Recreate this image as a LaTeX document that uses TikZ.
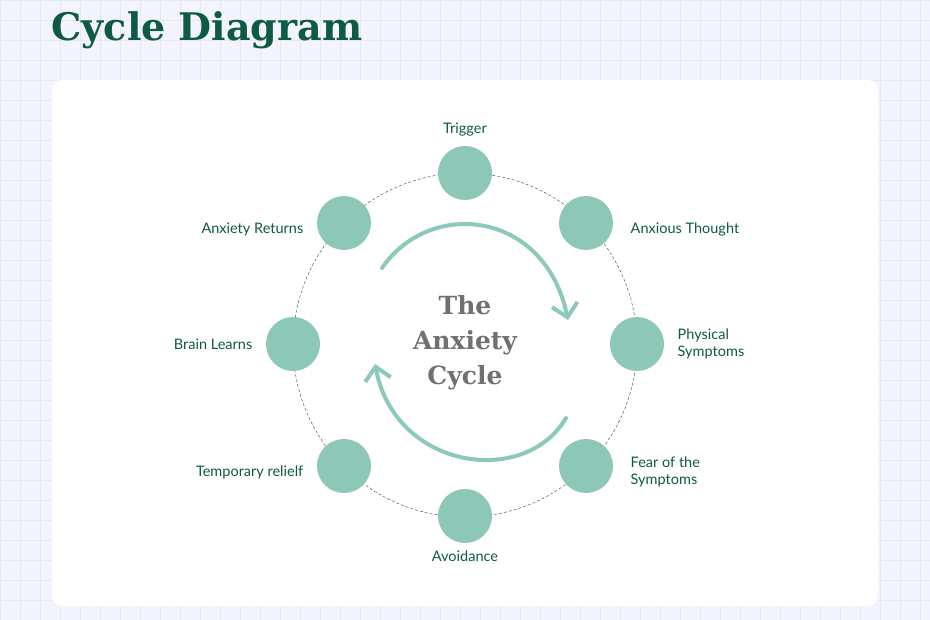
\documentclass[tikz,border=0pt]{standalone}
\usepackage{fontspec}
\setmainfont{Lato}
\newfontfamily\titlefont{DejaVu Serif}
\usetikzlibrary{arrows.meta,positioning}
\definecolor{deepgreen}{HTML}{0F5A43}
\definecolor{tealfill}{HTML}{8CC7B8}
\definecolor{arcteal}{HTML}{8CC9BC}
\definecolor{gridline}{HTML}{E6E8F8}
\definecolor{pagebg}{HTML}{F3F4FD}
\definecolor{centergray}{HTML}{707070}
\tikzset{
    stage/.style={circle,fill=tealfill,minimum size=54pt,inner sep=0pt},
    stagelabel/.style={font=\fontsize{14.5}{17}\selectfont,text=deepgreen,align=left},
    cyclearrow/.style={draw=arcteal,line width=4pt,line cap=round,-{Straight Barb[length=13pt,width=26pt,line width=4pt]}}
}
\begin{document}
\begin{tikzpicture}[x=1pt,y=-1pt]
        % Background and grid
        \fill[pagebg] (0,0) rectangle (930,620);
        \useasboundingbox (0,0) rectangle (930,620);
        \draw[gridline,step=20pt] (0,0) grid (930,620);
        \fill[white,rounded corners=10pt] (52,80) rectangle (878,606);

        \node[anchor=west,font=\titlefont\bfseries\fontsize{38}{42}\selectfont,text=deepgreen] (title) at (48,30) {Cycle Diagram};

        % Cycle ring
        \draw[deepgreen,densely dashed,line width=0.4pt] (465,345) circle[radius=172pt];

        \foreach \x/\y/\name in {465/173/trig,586/223/thought,637/344/phys,586/466/fear,465/516/avoid,344/466/relief,293/344/brain,344/223/returns}
           {
                \node[stage] (\name) at (\x,\y) {};
           }

        \node[stagelabel,above=6pt of trig] (trigtxt) {Trigger};
        \node[stagelabel,right=14pt of thought,yshift=-6pt] (thoughttxt) {Anxious Thought};
        \node[stagelabel,right=10pt of phys] (phystxt) {Physical\\Symptoms};
        \node[stagelabel,right=14pt of fear,yshift=-6pt] (feartxt) {Fear of the\\Symptoms};
        \node[stagelabel,below=4pt of avoid] (avoidtxt) {Avoidance};
        \node[stagelabel,left=10pt of relief,yshift=-6pt] (relieftxt) {Temporary relielf};
        \node[stagelabel,left=10pt of brain] (braintxt) {Brain Learns};
        \node[stagelabel,left=10pt of returns,yshift=-6pt] (returnstxt) {Anxiety Returns};

        \node[font=\titlefont\bfseries\fontsize{25}{35}\selectfont,text=centergray,align=center] (centre) at (465,343) {The\\Anxiety\\Cycle};

        % Cycle arrows
        \coordinate (upstart) at (382,268);
        \coordinate (upend) at (568,320);
        \coordinate (lowstart) at (566,418);
        \coordinate (lowend) at (375,364);
        \draw[cyclearrow] (upstart) .. controls (430,198) and (545,210) .. (upend);
        \draw[cyclearrow] (lowstart) .. controls (525,488) and (395,470) .. (lowend);
\end{tikzpicture}
\end{document}
